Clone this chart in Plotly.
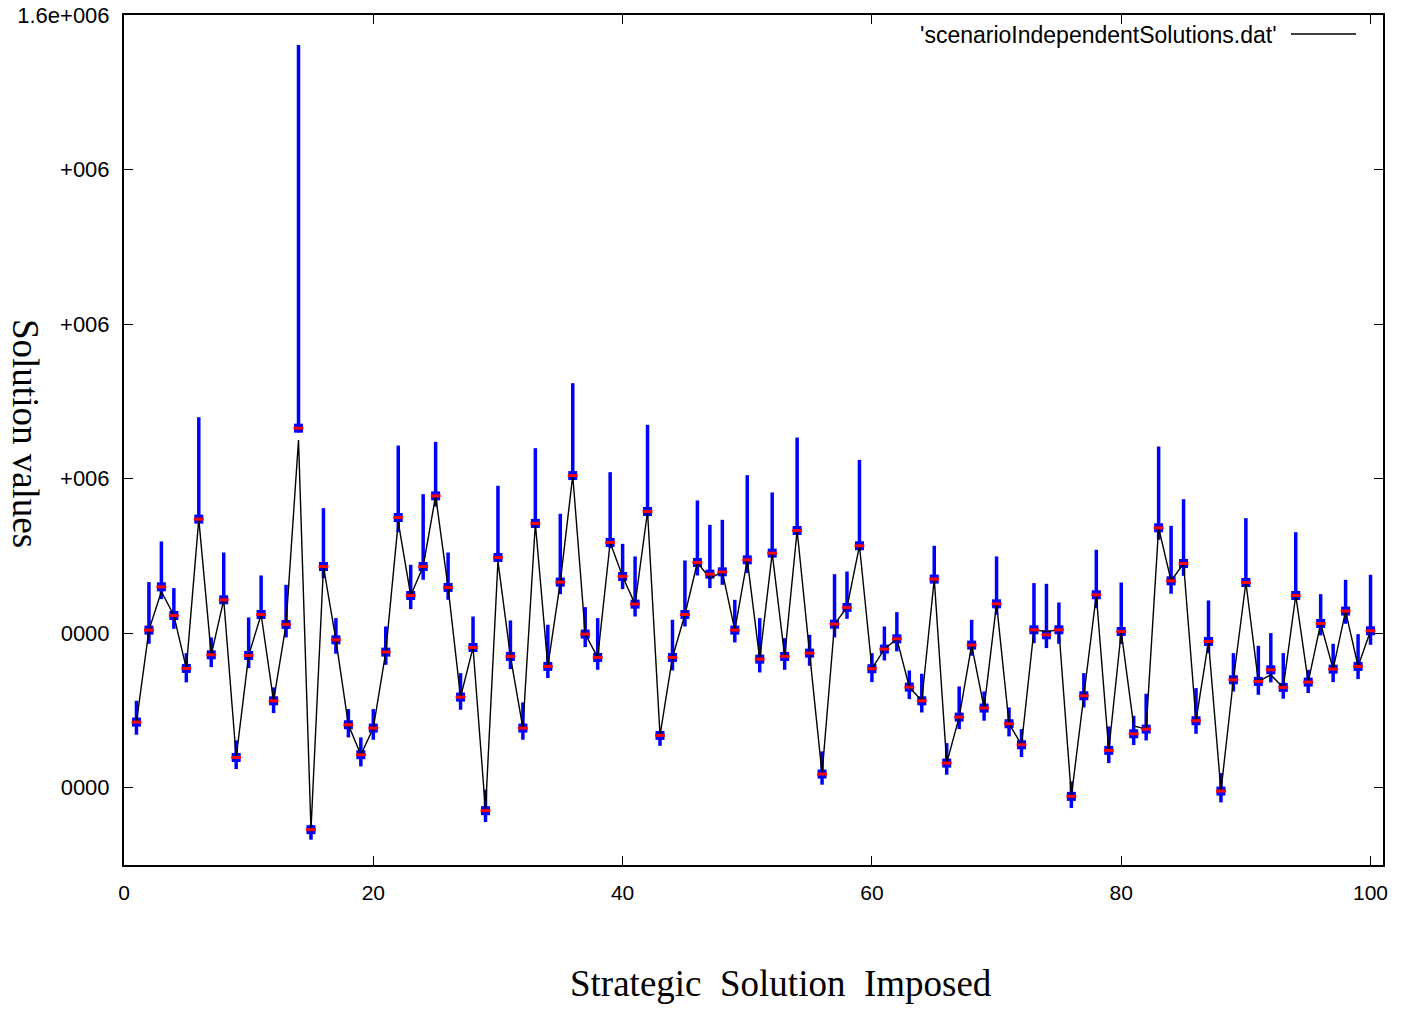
import plotly.graph_objects as go

x_index = list(range(1, 101))

mean_vals = [
    684900, 804000, 860000, 822900, 754400, 947600, 772000, 843200, 639200, 771200,
    824200, 712500, 811300, 1065300, 545700, 886300, 791400, 681500, 642700, 677200,
    775500, 949700, 848800, 886300, 977700, 859200, 717300, 781500, 570300, 898000,
    769900, 677200, 942000, 757000, 866100, 1004000, 798800, 768600, 917400, 873400,
    837600, 957500, 667700, 768600, 824200, 891500, 876400, 879400, 804000, 894900,
    766400, 903600, 769900, 932900, 774200, 617700, 811700, 833300, 913100, 754000,
    779400, 792700, 730200, 712500, 870000, 631900, 691400, 784600, 703100, 838000,
    682800, 655600, 804400, 797900, 804400, 588800, 719000, 849700, 648300, 802200,
    669800, 675900, 936400, 867800, 890200, 686700, 789300, 595700, 739700, 865600,
    737600, 752600, 729800, 848800, 736700, 812600, 753500, 828600, 757000, 803100,
]

upper_vals = [
    712500, 866100, 918700, 858300, 774200, 1079500, 794500, 904400, 661200, 820400,
    874700, 729800, 862600, 1561200, 552100, 961800, 819500, 701800, 665100, 701800,
    808700, 1042800, 888500, 979900, 1047600, 904400, 748300, 821600, 597400, 990700,
    816500, 710400, 1039400, 810900, 954500, 1123500, 833700, 819500, 1008400, 915600,
    899300, 1069600, 670700, 817300, 894100, 971700, 940200, 946700, 843200, 1004500,
    819500, 982100, 793600, 1053200, 797900, 647000, 876400, 879800, 1024300, 774200,
    808700, 827200, 751800, 747500, 913100, 657800, 731100, 817300, 724600, 899300,
    703900, 675900, 864800, 863900, 839700, 608200, 748300, 907900, 679300, 865600,
    693100, 721600, 1041600, 938900, 973400, 728900, 842400, 619000, 774200, 948900,
    783700, 800100, 774200, 930700, 752600, 850500, 786300, 869100, 798800, 875600,
]

lower_vals = [
    668600, 786300, 844100, 805700, 736300, 943300, 756100, 838900, 624100, 754800,
    819500, 696600, 794500, 1060000, 532700, 871200, 773400, 665100, 627600, 662100,
    759100, 930700, 831100, 869100, 963900, 843200, 700900, 776400, 555600, 892800,
    753500, 662100, 938100, 741900, 850500, 998400, 782000, 752600, 910000, 857000,
    821600, 951000, 654200, 751800, 808700, 874700, 858300, 862600, 788000, 877700,
    749200, 898000, 752600, 927300, 757800, 603900, 794500, 818600, 907900, 736700,
    764700, 776400, 714700, 697400, 864800, 616800, 675900, 770800, 686700, 823800,
    666400, 639700, 787100, 780700, 786300, 573700, 703900, 832400, 631900, 785900,
    655200, 661200, 920800, 851000, 874200, 669800, 774200, 581000, 724600, 860500,
    720300, 736300, 715200, 843200, 722500, 797100, 736700, 812200, 740600, 785000,
]

line_vals = [
    684900, 804000, 854000, 822900, 754400, 947600, 772000, 843200, 639200, 771200,
    824200, 712500, 811300, 1050000, 545700, 886300, 791400, 681500, 642700, 677200,
    775500, 944000, 848800, 886300, 977700, 859200, 717300, 781500, 570300, 893000,
    769900, 677200, 942000, 757000, 866100, 1004000, 798800, 768600, 917400, 873400,
    837600, 957500, 667700, 768600, 824200, 891500, 871000, 879400, 804000, 894900,
    766400, 903600, 769900, 932900, 774200, 617700, 811700, 833300, 913100, 754000,
    779400, 792700, 730200, 712500, 870000, 631900, 691400, 784600, 703100, 838000,
    682800, 655600, 804400, 802000, 804400, 588800, 719000, 849700, 648300, 802200,
    680000, 675900, 936400, 867800, 890200, 686700, 789300, 595700, 739700, 865600,
    737600, 746000, 729800, 848800, 736700, 812600, 753500, 828600, 757000, 803100,
]

y_tick_vals = [600000, 800000, 1000000, 1200000, 1400000, 1600000]
y_tick_text = ["0000", "0000", "+006", "+006", "+006", "1.6e+006"]
x_tick_vals = [0, 20, 40, 60, 80, 100]

legend_label = "'scenarioIndependentSolutions.dat'"
x_title = "Strategic\u00a0\u00a0Solution\u00a0\u00a0Imposed"
y_title = "Solution values"

err_plus = [u - m for u, m in zip(upper_vals, mean_vals)]
err_minus = [m - l for m, l in zip(mean_vals, lower_vals)]

fig = go.Figure()

fig.add_trace(go.Scatter(
    x=x_index, y=mean_vals, mode="markers",
    marker=dict(symbol="square", size=9, color="#0000ff", line=dict(width=0)),
    error_y=dict(type="data", symmetric=False, array=err_plus, arrayminus=err_minus,
                 color="#0000ff", thickness=3.5, width=0),
    showlegend=False, hoverinfo="skip",
))

fig.add_trace(go.Scatter(
    x=x_index, y=line_vals, mode="lines",
    line=dict(color="black", width=1.4),
    showlegend=False,
))

fig.add_trace(go.Scatter(
    x=x_index, y=mean_vals, mode="markers",
    marker=dict(symbol="line-ew", size=7, line=dict(color="#ff0000", width=3)),
    showlegend=False, hoverinfo="skip",
))

# legend (gnuplot style: text then sample line)
fig.add_annotation(
    x=(1279 - 124) / 1259, y=(865 - 35) / 850, xref="paper", yref="paper",
    text=legend_label, showarrow=False, xanchor="right", yanchor="middle",
    font=dict(family="Liberation Sans, Arial, sans-serif", size=23, color="black"),
)
fig.add_shape(
    type="line", xref="paper", yref="paper",
    x0=(1291 - 124) / 1259, x1=(1356 - 124) / 1259,
    y0=(865 - 34) / 850, y1=(865 - 34) / 850,
    line=dict(color="black", width=1.5),
)

fig.add_annotation(
    x=(781 - 124) / 1259, y=(865 - 983) / 850, xref="paper", yref="paper",
    text=x_title, showarrow=False, xanchor="center", yanchor="middle",
    font=dict(family="Liberation Serif, Times New Roman, serif", size=37, color="black"),
)
fig.add_annotation(
    x=(26 - 124) / 1259, y=(865 - 433) / 850, xref="paper", yref="paper",
    text=y_title, showarrow=False, xanchor="center", yanchor="middle", textangle=90,
    font=dict(family="Liberation Serif, Times New Roman, serif", size=37, color="black"),
)

fig.update_layout(
    width=1405, height=1009,
    margin=dict(l=124, r=22, t=15, b=144, autoexpand=False),
    paper_bgcolor="white", plot_bgcolor="white",
    font=dict(family="Liberation Sans, Arial, sans-serif", size=21, color="black"),
)

fig.update_xaxes(
    range=[0, 101], tickvals=x_tick_vals, ticks="inside", ticklen=9, tickwidth=1.2,
    tickcolor="black", showline=True, linecolor="black", linewidth=2, mirror="ticks",
    showgrid=False, zeroline=False, ticklabelstandoff=8, automargin=False,
    tickfont=dict(family="Liberation Sans, Arial, sans-serif", size=21, color="black"),
)
fig.update_yaxes(
    range=[500000, 1600000], tickvals=y_tick_vals, ticktext=y_tick_text,
    ticks="inside", ticklen=9, tickwidth=1.2, tickcolor="black",
    showline=True, linecolor="black", linewidth=2, mirror="ticks",
    showgrid=False, zeroline=False, ticklabelstandoff=8, automargin=False,
    tickfont=dict(family="Liberation Sans, Arial, sans-serif", size=22, color="black"),
)

fig.write_html("out.html")
